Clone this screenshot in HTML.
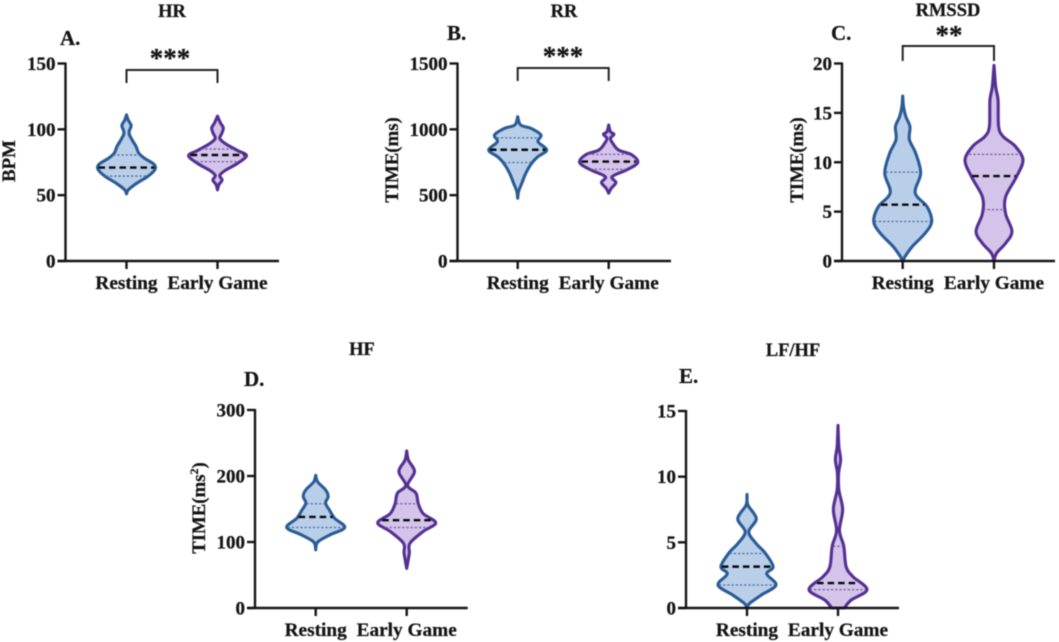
<!DOCTYPE html>
<html lang="en">
<head>
<meta charset="utf-8">
<title>HRV violin plots</title>
<style>
html,body{margin:0;padding:0;background:#fff;width:1059px;height:642px;overflow:hidden}
svg{display:block;filter:blur(0.45px)}
text{font-family:"Liberation Serif",serif;font-weight:bold;fill:#141414;stroke:#141414;stroke-width:0.25px}
</style>
</head>
<body>
<svg id="figure" xmlns="http://www.w3.org/2000/svg" width="1059" height="642" viewBox="0 0 1059 642"></svg>
<script>
const categories = ['Resting', 'Early Game'];

const hrTicks = [0, 50, 100, 150];
const rrTicks = [0, 500, 1000, 1500];
const rmssdTicks = [0, 5, 10, 15, 20];
const hfTicks = [0, 100, 200, 300];
const lfhfTicks = [0, 5, 10, 15];

const hrRestingValues = [51, 54, 59, 64, 68, 71, 74, 78, 82, 87, 91, 96, 99, 103, 107, 111];
const hrRestingDensity = [0, .06, .35, .72, .93, 1, .92, .62, .42, .33, .22, .1, .1, .16, .06, 0];
const hrRestingQuartiles = [64.5, 71, 80.5];
const hrEarlyValues = [54, 58, 61.5, 65, 69, 74, 80, 84, 89, 93, 97, 101, 105, 110];
const hrEarlyDensity = [0, .05, .16, .08, .28, .68, 1, .68, .28, .08, .15, .2, .1, 0];
const hrEarlyQuartiles = [75.5, 80.5, 85];

const rrRestingValues = [477, 528, 590, 667, 742, 793, 843, 906, 957, 1008, 1033, 1096];
const rrRestingDensity = [0, .03, .14, .28, .48, .7, 1, .7, .8, .45, .1, 0];
const rrRestingQuartiles = [748, 845, 935];
const rrEarlyValues = [515, 553, 596, 641, 692, 747, 806, 843, 894, 932, 962, 982, 1033];
const rrEarlyDensity = [0, .09, .25, .12, .62, 1, .8, .34, .14, .06, .18, .06, 0];
const rrEarlyQuartiles = [697, 755, 810];

const rmssdRestingValues = [0, .5, 1.5, 2.8, 4, 5.5, 6.9, 8.9, 10.9, 12.3, 13.6, 14.6, 15.6, 16.7];
const rmssdRestingDensity = [0, .09, .34, .77, 1, .84, .43, .62, .45, .23, .25, .11, .03, 0];
const rmssdRestingQuartiles = [4, 5.7, 9];
const rmssdEarlyValues = [0, .8, 1.8, 3, 4.8, 6.5, 8.5, 10.2, 11.6, 12.6, 13.6, 16.3, 17.6, 19.8];
const rmssdEarlyDensity = [0, .09, .4, .62, .4, .4, .77, 1, .74, .32, .16, .14, .06, 0];
const rmssdEarlyQuartiles = [5.2, 8.6, 10.8];

const hfRestingValues = [88, 100, 111, 122, 136, 148, 159, 169, 179, 191, 201];
const hfRestingDensity = [0, .07, .5, 1, .65, .48, .34, .43, .34, .07, 0];
const hfRestingQuartiles = [122, 138, 158];
const hfEarlyValues = [60, 83, 98, 116, 129, 143, 158, 174, 186, 206.5, 224, 238];
const hfEarlyDensity = [0, .09, .11, .57, 1, .57, .4, .32, .03, .27, .06, 0];
const hfEarlyQuartiles = [122, 133, 158];

const lfhfRestingValues = [0, .35, 1, 1.75, 2.6, 3.15, 4.2, 4.9, 5.8, 6.8, 7.85, 8.65];
const lfhfRestingDensity = [0, .09, .5, 1, .68, .9, .62, .32, .06, .32, .03, 0];
const lfhfRestingQuartiles = [1.75, 3.15, 4.15];
const lfhfEarlyValues = [0, .6, 1.4, 2.4, 3.15, 4.7, 5.9, 7.5, 9, 10.25, 11.3, 12.3, 13.9];
const lfhfEarlyDensity = [.22, .45, 1, .51, .28, .2, .05, .16, .03, .02, .09, .03, 0];
const lfhfEarlyQuartiles = [1.4, 1.9, 4.7];

const svg = document.getElementById('figure');
const NS = 'http://www.w3.org/2000/svg';
const COLORS = [
  { stroke: '#2b5c96', fill: '#b9cfe9', dot: '#50699c' },
  { stroke: '#553093', fill: '#d4c4ea', dot: '#6f5a9e' }
];
const HALF_WIDTH = 29;

function make(tag, parent) {
  const el = document.createElementNS(NS, tag);
  parent.appendChild(el);
  return el;
}

function label(parent, str, x, y, size, anchor) {
  const t = make('text', parent);
  t.setAttribute('x', x);
  t.setAttribute('y', y);
  t.setAttribute('font-size', size);
  t.setAttribute('text-anchor', anchor);
  t.textContent = str;
  return t;
}

function line(parent, x1, y1, x2, y2, color, width) {
  const l = make('line', parent);
  l.setAttribute('x1', x1);
  l.setAttribute('y1', y1);
  l.setAttribute('x2', x2);
  l.setAttribute('y2', y2);
  l.setAttribute('stroke', color);
  l.setAttribute('stroke-width', width);
  return l;
}

function densityAt(values, density, v) {
  for (let i = 1; i < values.length; i++) {
    if (v <= values[i]) {
      const f = (v - values[i - 1]) / (values[i] - values[i - 1]);
      return density[i - 1] + f * (density[i] - density[i - 1]);
    }
  }
  return 0;
}

function smooth(pts) {
  let d = '';
  for (let i = 0; i < pts.length - 1; i++) {
    const p0 = pts[Math.max(i - 1, 0)], p1 = pts[i], p2 = pts[i + 1], p3 = pts[Math.min(i + 2, pts.length - 1)];
    const c1x = p1[0] + (p2[0] - p0[0]) / 6, c1y = p1[1] + (p2[1] - p0[1]) / 6;
    const c2x = p2[0] - (p3[0] - p1[0]) / 6, c2y = p2[1] - (p3[1] - p1[1]) / 6;
    d += 'C' + c1x.toFixed(2) + ' ' + c1y.toFixed(2) + ' ' + c2x.toFixed(2) + ' ' + c2y.toFixed(2) + ' ' + p2[0].toFixed(2) + ' ' + p2[1].toFixed(2);
  }
  return d;
}

function drawPanel(p) {
  const g = make('g', svg);
  
  
  const maxTick = p.ticks[p.ticks.length - 1];
  const yScale = v => p.y0 - (v / maxTick) * (p.y0 - p.yTop);

  p.series.forEach((s, idx) => {
    const cx = p.cats[idx];
    const c = COLORS[idx];
    const right = s.values.map((v, i) => [cx + s.density[i] * HALF_WIDTH, yScale(v)]);
    const left = s.values.map((v, i) => [cx - s.density[i] * HALF_WIDTH, yScale(v)]).reverse();
    const body = make('path', g);
    body.setAttribute('d', 'M' + right[0][0] + ' ' + right[0][1] + smooth(right) + 'L' + left[0][0] + ' ' + left[0][1] + smooth(left) + 'Z');
    body.setAttribute('fill', c.fill);
    body.setAttribute('stroke', c.stroke);
    body.setAttribute('stroke-width', '3.1');
    body.setAttribute('stroke-linejoin', 'round');
    
    
    s.quartiles.forEach((q, k) => {
      const hw = densityAt(s.values, s.density, q) * HALF_WIDTH - 1;
      const ql = line(g, cx - hw, yScale(q), cx + hw, yScale(q), k === 1 ? '#08080c' : c.dot, k === 1 ? 2.4 : 1.3);
      ql.setAttribute('stroke-dasharray', k === 1 ? '6.5 4' : '2.2 2');
      
      
    });
  });

  const yAxis = line(g, p.x, p.yTop - 1, p.x, p.y0 + 1, '#151515', 2.4);
  
  
  const xAxis = line(g, p.x - 8, p.y0, p.xEnd, p.y0, '#151515', 2.4);
  
  

  p.ticks.forEach(v => {
    const y = yScale(v);
    const tk = line(g, p.x - 8, y, p.x, y, '#151515', 2.4);
    
    
    const tl = label(g, String(v), p.x - 10, y + 6.5, 19, 'end');
    
    
  });

  categories.forEach((name, i) => {
    const tk = line(g, p.cats[i], p.y0, p.cats[i], p.y0 + 8, '#151515', 2.4);
    
    
    const tl = label(g, name, p.cats[i], p.y0 + 28, 19.3, 'middle');
    
    
  });

  const title = label(g, p.title, p.titleX, p.titleY, 18.5, 'middle');
  
  
  const letter = label(g, p.letter, p.letterX, p.letterY, 21, 'start');
  
  

  if (p.yTitle) {
    const yt = label(g, p.yTitle, 0, 0, 18.8, 'middle');
    yt.setAttribute('transform', 'translate(' + p.yTitleX + ' ' + p.yTitleY + ') rotate(-90)');
    
    
    if (p.yTitleSup) {
      const sup = make('tspan', yt);
      sup.setAttribute('dy', '-7');
      sup.setAttribute('font-size', '12');
      sup.textContent = p.yTitleSup;
      const end = make('tspan', yt);
      end.setAttribute('dy', '7');
      end.textContent = ')';
    }
  }

  if (p.sig) {
    const b = make('path', g);
    b.setAttribute('d', 'M' + p.cats[0] + ' ' + p.sig.bottom + 'V' + p.sig.top + 'H' + p.cats[1] + 'V' + p.sig.bottom);
    b.setAttribute('fill', 'none');
    b.setAttribute('stroke', '#222');
    b.setAttribute('stroke-width', '2');
    
    
    const st = label(g, p.sig.stars, p.sig.x, p.sig.y, 27, 'middle');
    
    
  }
}

drawPanel({
  id: 'hr', title: 'HR', titleX: 172, titleY: 17, letter: 'A.', letterX: 60, letterY: 45,
  x: 65.5, xEnd: 279, y0: 261, yTop: 63.5, cats: [126.5, 217.5], ticks: hrTicks,
  yTitle: 'BPM', yTitleX: 15, yTitleY: 161,
  sig: { stars: '***', x: 170, y: 67, top: 70, bottom: 83 },
  series: [
    { values: hrRestingValues, density: hrRestingDensity, quartiles: hrRestingQuartiles },
    { values: hrEarlyValues, density: hrEarlyDensity, quartiles: hrEarlyQuartiles }
  ]
});
drawPanel({
  id: 'rr', title: 'RR', titleX: 564, titleY: 17, letter: 'B.', letterX: 447, letterY: 40,
  x: 457.5, xEnd: 671, y0: 261, yTop: 63.5, cats: [517.7, 608.7], ticks: rrTicks,
  yTitle: 'TIME(ms)', yTitleX: 398, yTitleY: 160,
  sig: { stars: '***', x: 563, y: 65, top: 68, bottom: 81 },
  series: [
    { values: rrRestingValues, density: rrRestingDensity, quartiles: rrRestingQuartiles },
    { values: rrEarlyValues, density: rrEarlyDensity, quartiles: rrEarlyQuartiles }
  ]
});
drawPanel({
  id: 'rmssd', title: 'RMSSD', titleX: 948, titleY: 16, letter: 'C.', letterX: 831, letterY: 40,
  x: 842, xEnd: 1055, y0: 261, yTop: 63.5, cats: [902.7, 994], ticks: rmssdTicks,
  yTitle: 'TIME(ms)', yTitleX: 803, yTitleY: 160,
  sig: { stars: '**', x: 949, y: 44, top: 46, bottom: 61 },
  series: [
    { values: rmssdRestingValues, density: rmssdRestingDensity, quartiles: rmssdRestingQuartiles },
    { values: rmssdEarlyValues, density: rmssdEarlyDensity, quartiles: rmssdEarlyQuartiles }
  ]
});
drawPanel({
  id: 'hf', title: 'HF', titleX: 362, titleY: 355, letter: 'D.', letterX: 244, letterY: 386,
  x: 255, xEnd: 467.7, y0: 608, yTop: 410, cats: [315.7, 406.7], ticks: hfTicks,
  yTitle: 'TIME(ms', yTitleSup: '2', yTitleX: 205, yTitleY: 508,
  series: [
    { values: hfRestingValues, density: hfRestingDensity, quartiles: hfRestingQuartiles },
    { values: hfEarlyValues, density: hfEarlyDensity, quartiles: hfEarlyQuartiles }
  ]
});
drawPanel({
  id: 'lfhf', title: 'LF/HF', titleX: 793, titleY: 356, letter: 'E.', letterX: 679, letterY: 383,
  x: 686, xEnd: 899, y0: 608, yTop: 411, cats: [747, 838], ticks: lfhfTicks,
  series: [
    { values: lfhfRestingValues, density: lfhfRestingDensity, quartiles: lfhfRestingQuartiles },
    { values: lfhfEarlyValues, density: lfhfEarlyDensity, quartiles: lfhfEarlyQuartiles }
  ]
});
</script>
</body>
</html>
